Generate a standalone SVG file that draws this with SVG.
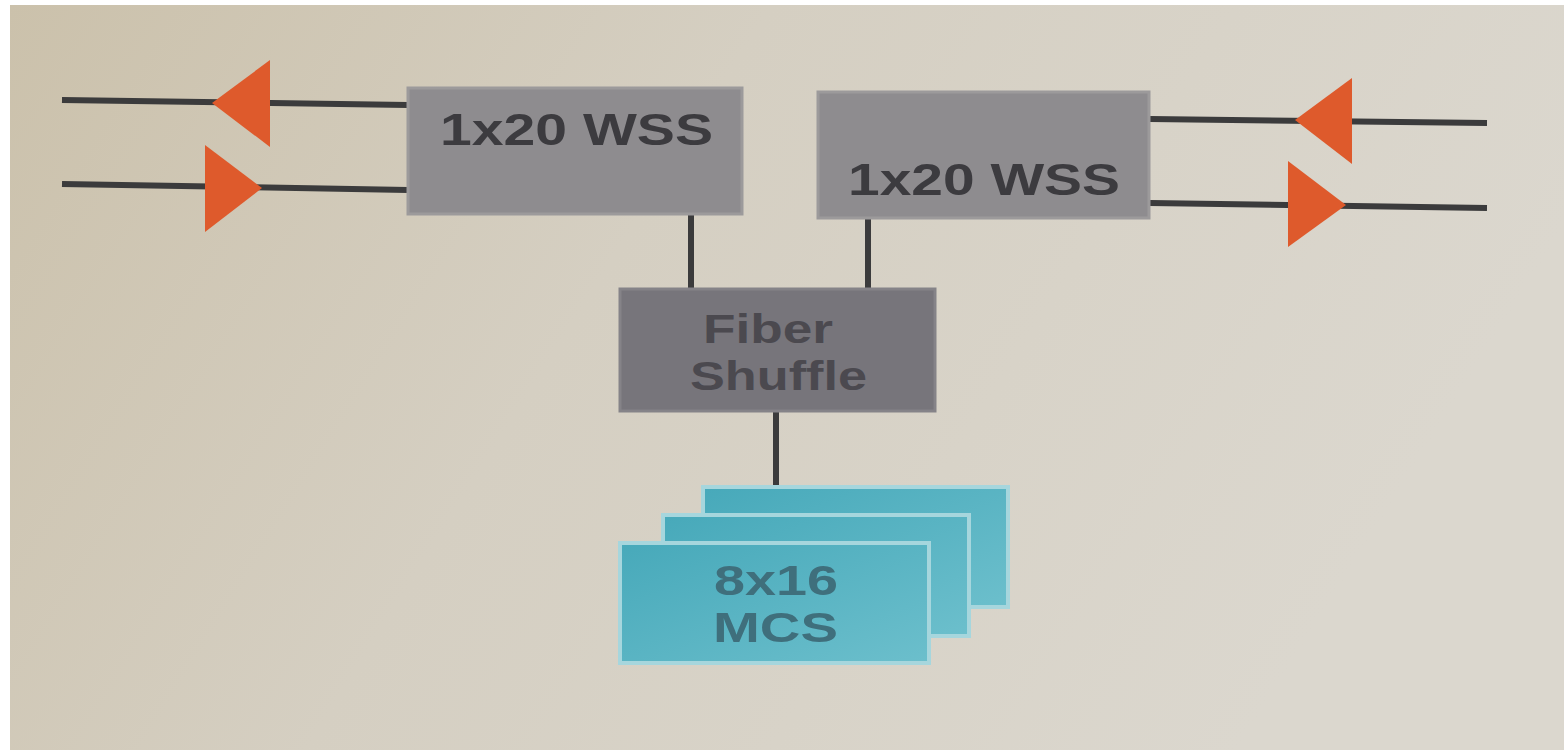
<svg xmlns="http://www.w3.org/2000/svg" width="1564" height="750" viewBox="0 0 1564 750">
  <defs>
    <linearGradient id="bg" x1="0" y1="0" x2="1" y2="0.3">
      <stop offset="0" stop-color="#cbc1ab"/>
      <stop offset="0.45" stop-color="#d5cfc2"/>
      <stop offset="1" stop-color="#dbd7ce"/>
    </linearGradient>
    <linearGradient id="cyan" x1="0" y1="0" x2="1" y2="1">
      <stop offset="0" stop-color="#47a9ba"/>
      <stop offset="1" stop-color="#6cbfcc"/>
    </linearGradient>
    <style>
      .wire { stroke: #3b3b3c; stroke-width: 6; fill: none; }
      .tri { fill: #de5a2c; }
      .wss { fill: #8e8c8f; stroke: #9c9a9b; stroke-width: 3; }
      .fs { fill: #77757b; stroke: #858388; stroke-width: 3; }
      .mcs { fill: url(#cyan); stroke: #a6d6dd; stroke-width: 4; }
      .lbl { font-family: "Liberation Sans", Arial, sans-serif; font-weight: bold; font-size: 44px; fill: #3c3b3f; }
      .lbl2 { font-family: "Liberation Sans", Arial, sans-serif; font-weight: bold; font-size: 40px; fill: #4b494f; }
      .lbl3 { font-family: "Liberation Sans", Arial, sans-serif; font-weight: bold; font-size: 42px; fill: #3f6f7c; }
    </style>
  </defs>
  <rect x="0" y="0" width="1564" height="750" fill="#ffffff"/>
  <rect x="10" y="5" width="1554" height="745" fill="url(#bg)"/>

  <g id="connectors">
    <line class="wire" x1="62" y1="100" x2="408" y2="105"/>
    <line class="wire" x1="62" y1="184" x2="408" y2="190"/>
    <line class="wire" x1="1150" y1="119" x2="1487" y2="123"/>
    <line class="wire" x1="1150" y1="203" x2="1487" y2="208"/>
    <line class="wire" x1="691" y1="214" x2="691" y2="290"/>
    <line class="wire" x1="868" y1="218" x2="868" y2="290"/>
    <line class="wire" x1="776" y1="411" x2="776" y2="488"/>
    <polygon class="tri" points="212,103 270,60 270,147"/>
    <polygon class="tri" points="205,145 205,232 262,188"/>
    <polygon class="tri" points="1295,120 1352,78 1352,164"/>
    <polygon class="tri" points="1288,161 1288,247 1346,205"/>
  </g>

  <g id="wss-left">
    <rect class="wss" x="408" y="88" width="334" height="126"/>
    <text class="lbl" x="440" y="145" textLength="273" lengthAdjust="spacingAndGlyphs">1x20 WSS</text>
  </g>

  <g id="wss-right">
    <rect class="wss" x="818" y="92" width="331" height="126"/>
    <text class="lbl" x="848" y="195" textLength="272" lengthAdjust="spacingAndGlyphs">1x20 WSS</text>
  </g>

  <g id="fiber-shuffle">
    <rect class="fs" x="620" y="289" width="315" height="122"/>
    <text class="lbl2" x="703" y="343" textLength="130" lengthAdjust="spacingAndGlyphs">Fiber</text>
    <text class="lbl2" x="690" y="390" textLength="177" lengthAdjust="spacingAndGlyphs">Shuffle</text>
  </g>

  <g id="mcs">
    <rect class="mcs" x="703" y="487" width="305" height="120"/>
    <rect class="mcs" x="663" y="515" width="306" height="121"/>
    <rect class="mcs" x="620" y="543" width="309" height="120"/>
    <text class="lbl3" x="714" y="595" textLength="124" lengthAdjust="spacingAndGlyphs">8x16</text>
    <text class="lbl3" x="713" y="642" textLength="125" lengthAdjust="spacingAndGlyphs">MCS</text>
  </g>
</svg>
